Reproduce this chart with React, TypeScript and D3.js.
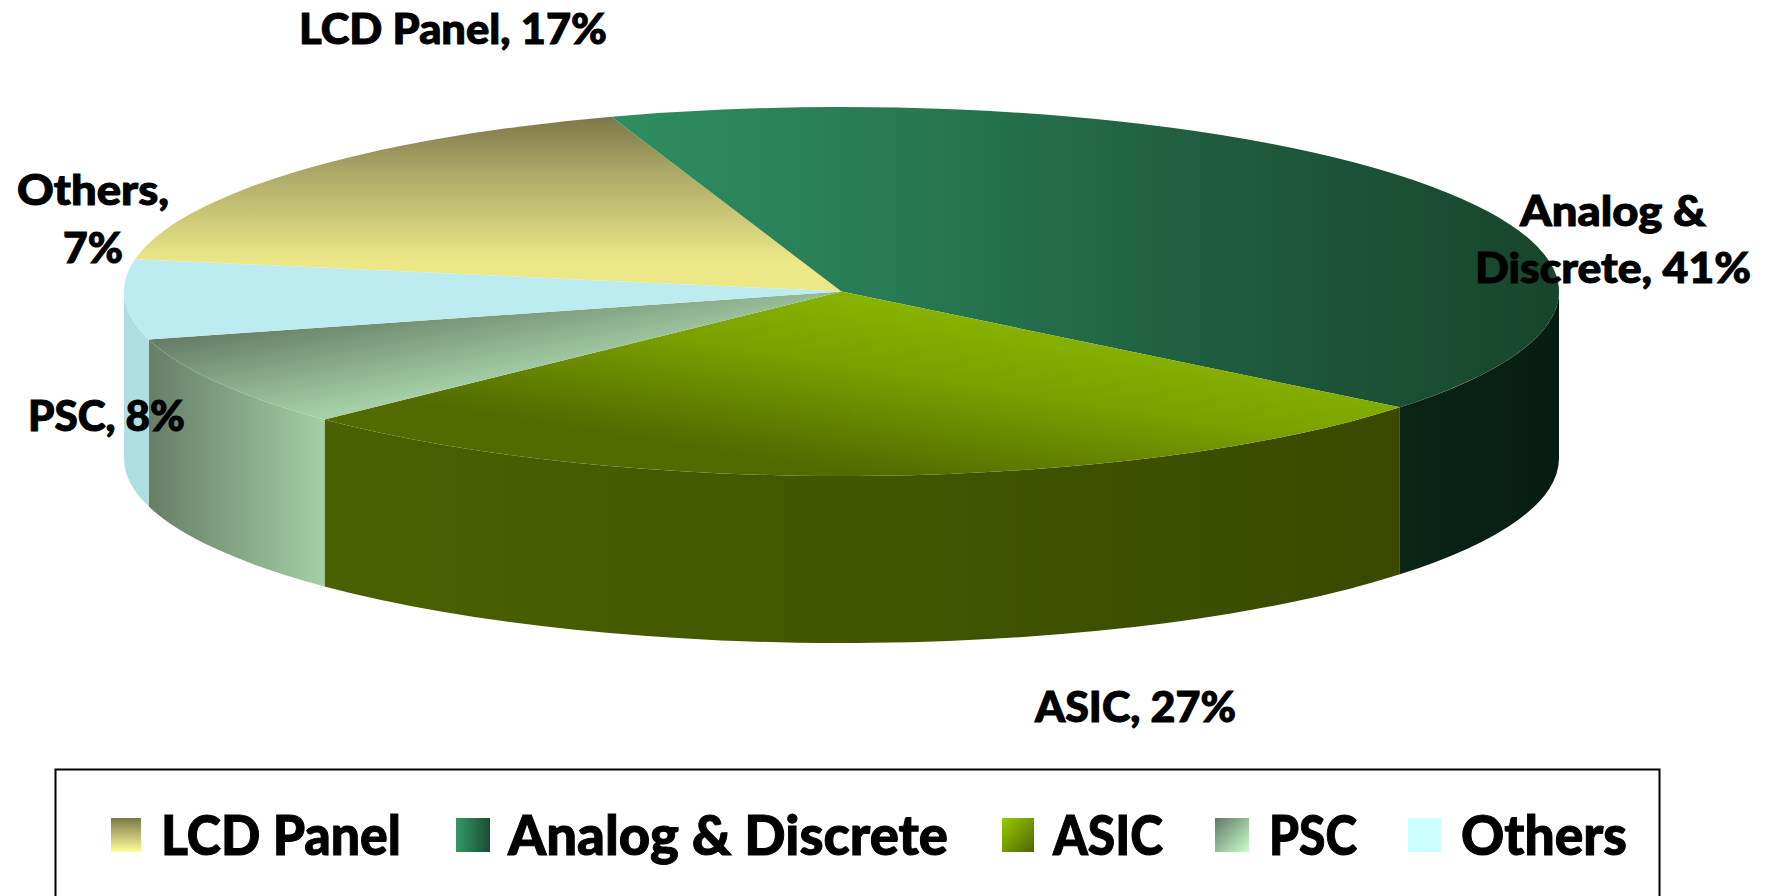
import * as d3 from "d3";

// shares as printed on the chart, clockwise from the LCD slice
const categories = ["LCD Panel", "Analog & Discrete", "ASIC", "PSC", "Others"];
const shares = [17, 41, 27, 8, 7];
const gradientIds = ["lcd", "analog", "asic", "psc", "others"];

const WIDTH = 1769;
const HEIGHT = 896;
const FONT = "Lato, 'Open Sans', sans-serif";

const cx = 841.5;
const cy = 291.5;
const rx = 717.5;
const ry = 184.5;
const depth = 167;
const firstAngle = (-79.9 * Math.PI) / 180;

// [text, left, right, baseline]
const sliceLabels: [string, number, number, number][] = [
  ["LCD Panel, 17%", 299, 607, 44],
  ["Others,", 17, 169, 205],
  ["7%", 63, 123, 263],
  ["PSC, 8%", 28, 185, 431],
  ["Analog &", 1520, 1706, 226],
  ["Discrete, 41%", 1475, 1751, 283],
  ["ASIC, 27%", 1035, 1236, 722],
];

// [swatch left, swatch right, text left, text right]
const legendSlots: [number, number, number, number][] = [
  [111, 141, 161, 401],
  [456, 490, 508, 948],
  [1002, 1034, 1053, 1163],
  [1215, 1249, 1269, 1357],
  [1408, 1441, 1461, 1627],
];

const pie = d3
  .pie<number>()
  .sort(null)
  .startAngle(firstAngle)
  .endAngle(firstAngle + 2 * Math.PI);

const slices = pie(shares);

const px = (a: number) => cx + rx * Math.sin(a);
const py = (a: number) => cy - ry * Math.cos(a);

function ellipseArc(a: number, b: number, dy = 0, back = false) {
  const large = Math.abs(b - a) > Math.PI ? 1 : 0;
  const end = back ? a : b;
  return `A${rx},${ry} 0 ${large} ${back ? 0 : 1} ${px(end)},${py(end) + dy}`;
}

function topPath(a: number, b: number) {
  return `M${cx},${cy}L${px(a)},${py(a)}${ellipseArc(a, b)}Z`;
}

// only the front half of the rim can be seen
function wallPath(a0: number, b0: number) {
  const a = Math.max(a0, Math.PI / 2);
  const b = Math.min(b0, (3 * Math.PI) / 2);
  if (b <= a) return null;
  return (
    `M${px(a)},${py(a)}${ellipseArc(a, b)}` +
    `L${px(b)},${py(b) + depth}${ellipseArc(a, b, depth, true)}Z`
  );
}

function Grad({ id, p, stops }: { id: string; p: number[]; stops: [number, string][] }) {
  return (
    <linearGradient id={id} gradientUnits="userSpaceOnUse" x1={p[0]} y1={p[1]} x2={p[2]} y2={p[3]}>
      {stops.map(([o, c]) => (
        <stop key={o} offset={o} stopColor={c} />
      ))}
    </linearGradient>
  );
}

function Label({ text, x0, x1, y, size }: { text: string; x0: number; x1: number; y: number; size: number }) {
  return (
    <text
      x={x0}
      y={y}
      textLength={x1 - x0}
      lengthAdjust="spacingAndGlyphs"
      fontFamily={FONT}
      fontWeight={900}
      fontSize={size}
      fill="#000"
      stroke="#000"
      strokeWidth={1}
    >
      {text}
    </text>
  );
}

export default function App() {
  return (
    <svg
      width={WIDTH}
      height={HEIGHT}
      style={{ position: "absolute", left: 0, top: 0, display: "block", background: "#fff" }}
    >
      <defs>
        <Grad id="top-lcd" p={[0, 117, 0, 262]} stops={[[0, "#7c7748"], [0.35, "#a9a565"], [1, "#ece888"]]} />
        <Grad id="top-analog" p={[612, 0, 1559, 0]} stops={[[0, "#2f8e60"], [0.3, "#287a53"], [0.65, "#1f5b3e"], [1, "#17452c"]]} />
        <Grad id="top-asic" p={[880, 285, 850, 472]} stops={[[0, "#8ab700"], [0.45, "#7a9f00"], [1, "#526a00"]]} />
        <Grad id="top-psc" p={[168, 340, 186, 438]} stops={[[0, "#667e66"], [1, "#a6cfa6"]]} />
        <Grad id="top-others" p={[0, 0, 1, 0]} stops={[[0, "#bcecef"], [1, "#bcecef"]]} />
        <Grad id="wall-lcd" p={[0, 0, 1, 0]} stops={[[0, "#7c7748"], [1, "#7c7748"]]} />
        <Grad id="wall-analog" p={[1401, 0, 1559, 0]} stops={[[0, "#0a2416"], [1, "#081d12"]]} />
        <Grad id="wall-asic" p={[326, 0, 1401, 0]} stops={[[0, "#4b6100"], [1, "#394a00"]]} />
        <Grad id="wall-psc" p={[150, 0, 326, 0]} stops={[[0, "#667e66"], [1, "#a6cfa6"]]} />
        <Grad id="wall-others" p={[0, 0, 1, 0]} stops={[[0, "#aedde2"], [1, "#aedde2"]]} />
        <linearGradient id="key-lcd" x1="0" y1="0" x2="0" y2="1">
          <stop offset="0" stopColor="#7c7748" />
          <stop offset="1" stopColor="#ffff99" />
        </linearGradient>
        <linearGradient id="key-analog" x1="0" y1="0" x2="1" y2="0">
          <stop offset="0" stopColor="#339966" />
          <stop offset="1" stopColor="#1a4d33" />
        </linearGradient>
        <linearGradient id="key-asic" x1="0" y1="0" x2="1" y2="1">
          <stop offset="0" stopColor="#99cc00" />
          <stop offset="1" stopColor="#4d6600" />
        </linearGradient>
        <linearGradient id="key-psc" x1="0" y1="0" x2="1" y2="1">
          <stop offset="0" stopColor="#5f7a66" />
          <stop offset="1" stopColor="#ccffcc" />
        </linearGradient>
        <linearGradient id="key-others" x1="0" y1="0" x2="1" y2="0">
          <stop offset="0" stopColor="#ccffff" />
          <stop offset="1" stopColor="#ccffff" />
        </linearGradient>
      </defs>

      {slices.map((s, i) => {
        const d = wallPath(s.startAngle, s.endAngle);
        return d ? <path key={i} d={d} fill={`url(#wall-${gradientIds[i]})`} /> : null;
      })}
      {slices.map((s, i) => (
        <path key={i} d={topPath(s.startAngle, s.endAngle)} fill={`url(#top-${gradientIds[i]})`} />
      ))}

      {sliceLabels.map(([text, x0, x1, y]) => (
        <Label key={text} text={text} x0={x0} x1={x1} y={y} size={42} />
      ))}

      <rect x={55.5} y={769.5} width={1604} height={140} fill="none" stroke="#000" strokeWidth={2} />
      {categories.map((c, i) => {
        const [s0, s1, t0, t1] = legendSlots[i];
        return (
          <g key={c}>
            <rect x={s0} y={818} width={s1 - s0} height={34} fill={`url(#key-${gradientIds[i]})`} />
            <Label text={c} x0={t0} x1={t1} y={855} size={55} />
          </g>
        );
      })}
    </svg>
  );
}
